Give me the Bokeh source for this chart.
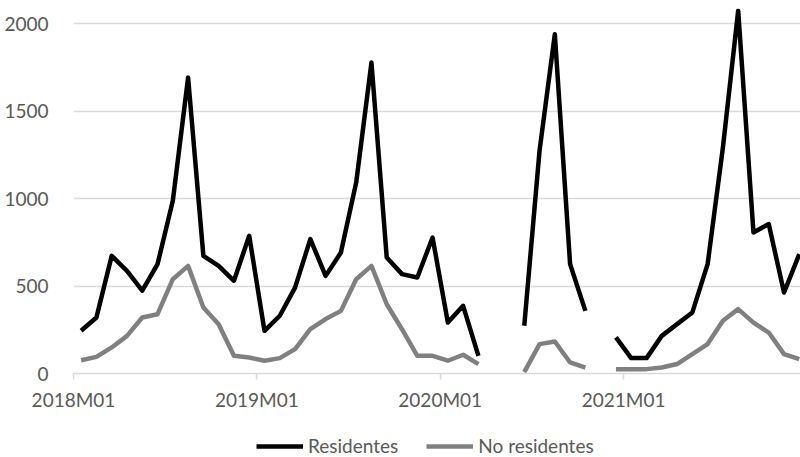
from bokeh.plotting import figure
from bokeh.layouts import column
from bokeh.models import Range1d, FixedTicker, Legend, LegendItem
from bokeh.embed import file_html
from bokeh.resources import INLINE

nan = float("nan")

years = ["2018", "2019", "2020", "2021"]
months = [f"{y}M{m:02d}" for y in years for m in range(1, 13)]

residentes = [
    244, 320, 672, 587, 473, 625, 987, 1691, 672, 615, 530, 787,
    244, 330, 491, 768, 558, 691, 1091, 1777, 663, 568, 549, 777,
    291, 387, 101, nan, nan, 273, 1273, 1939, 625, 358, nan, 206,
    88, 88, 215, 282, 349, 625, 1291, 2073, 806, 854, 463, 682,
]
no_residentes = [
    76, 95, 149, 215, 320, 339, 539, 615, 377, 282, 101, 91,
    73, 88, 139, 253, 311, 358, 539, 615, 396, 253, 101, 101,
    73, 107, 54, nan, nan, 8, 168, 183, 63, 34, nan, 25,
    25, 25, 34, 54, 111, 168, 301, 368, 291, 234, 111, 82,
]
y_ticks = [0, 500, 1000, 1500, 2000]
series_names = ["Residentes", "No residentes"]

x = [i + 0.5 for i in range(len(months))]
year_ticks = [i for i, m in enumerate(months) if m.endswith("M01")]

FONT = "Lato"
TXT = "#595959"
GRID = "#d9d9d9"
COLORS = ["black", "#808080"]
SERIES = [residentes, no_residentes]

# scale: 0.175 px per unit, 15.28 px per month
xr = Range1d(0, 727 / 15.28)
p = figure(frame_width=727, frame_height=365,
           min_border_left=73, min_border_right=0, min_border_top=8, min_border_bottom=0,
           x_range=xr, y_range=Range1d(0, 2086),
           output_backend="svg", toolbar_location=None)
p.outline_line_color = None
p.background_fill_color = "white"
p.border_fill_color = "white"

for s, c in zip(SERIES, COLORS):
    p.line(x, s, line_color=c, line_width=4.5, line_join="round")

xa = p.xaxis[0]
xa.ticker = FixedTicker(ticks=year_ticks)
xa.major_label_overrides = {t: months[t] for t in year_ticks}
xa.axis_line_color = GRID
xa.axis_line_width = 1.5
xa.major_tick_line_color = GRID
xa.major_tick_line_width = 1.5
xa.major_tick_out = 6
xa.major_tick_in = 0
xa.minor_tick_line_color = None
xa.major_label_text_font = FONT
xa.major_label_text_font_size = "19px"
xa.major_label_text_color = TXT
xa.major_label_standoff = 8

ya = p.yaxis[0]
ya.ticker = FixedTicker(ticks=y_ticks)
ya.axis_line_color = None
ya.major_tick_line_color = None
ya.minor_tick_line_color = None
ya.major_label_text_font = FONT
ya.major_label_text_font_size = "19px"
ya.major_label_text_color = TXT
ya.major_label_standoff = 19

p.xgrid.grid_line_color = None
p.ygrid.grid_line_color = GRID
p.ygrid.grid_line_width = 1.5

# legend strip below the chart (series drawn out of view, only their legend keys show)
lf = figure(width=800, height=60, min_border=0,
            x_range=xr, y_range=Range1d(5000, 6000),
            x_axis_location=None, y_axis_location=None,
            output_backend="svg", toolbar_location=None)
lf.outline_line_color = None
lf.xgrid.grid_line_color = None
lf.ygrid.grid_line_color = None
keys = [lf.line(x, s, line_color=c, line_width=4.5) for s, c in zip(SERIES, COLORS)]
legend = Legend(items=[LegendItem(label=n, renderers=[k]) for n, k in zip(series_names, keys)],
                orientation="horizontal", location=(183, 16),
                glyph_width=47, glyph_height=20, label_standoff=5, spacing=28,
                padding=0, margin=0,
                label_text_font=FONT, label_text_font_size="19px", label_text_color=TXT,
                border_line_color=None, background_fill_alpha=0)
lf.add_layout(legend, "center")

open("out.html", "w").write(file_html(column(p, lf, spacing=0), INLINE))
